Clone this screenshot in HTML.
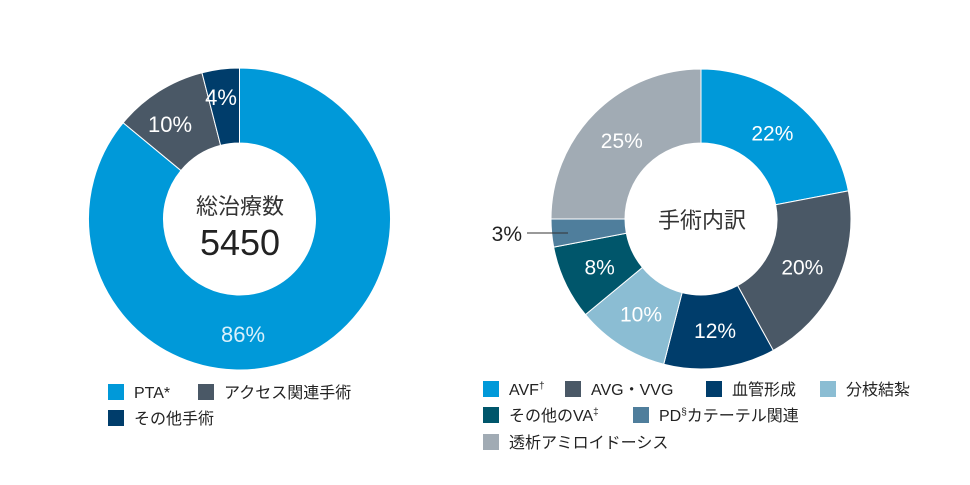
<!DOCTYPE html>
<html><head><meta charset="utf-8"><style>
body{margin:0;background:#fff;width:970px;height:485px;overflow:hidden;font-family:"Liberation Sans","Noto Sans CJK JP",sans-serif;}
svg{position:absolute;left:0;top:0}
</style></head><body>
<svg width="970" height="485"></svg>
<script>
const leftCats=["PTA*","アクセス関連手術","その他手術"];
const leftVals=[86,10,4];
const leftLabels=["86%","10%","4%"];
const rightCats=["AVF|†","AVG・VVG","血管形成","分枝結紮","その他のVA|‡","PD|§|カテーテル関連","透析アミロイドーシス"];
const rightVals=[22,20,12,10,8,3,25];
const rightLabels=["22%","20%","12%","10%","8%","3%","25%"];
const leftColors=["#0099d9","#4a5866","#003d6b"];
const rightColors=["#0099d9","#4a5866","#003d6b","#8bbdd3","#00566b","#4f7e9c","#a1abb4"];
const NS="http://www.w3.org/2000/svg";
const svg=document.querySelector("svg");
function mk(t,a,p){const e=document.createElementNS(NS,t);for(const k in a)e.setAttribute(k,a[k]);(p||svg).appendChild(e);return e;}
function pt(cx,cy,r,f){const a=f*2*Math.PI;return [cx+r*Math.sin(a),cy-r*Math.cos(a)];}
function donut(cx,cy,R,r,vals,cols,name){
  const tot=vals.reduce((a,b)=>a+b,0);let acc=0;const mids=[];
  vals.forEach((v,i)=>{
    const f0=acc/tot,f1=(acc+v)/tot;acc+=v;
    const [x0,y0]=pt(cx,cy,R,f0),[x1,y1]=pt(cx,cy,R,f1),[x2,y2]=pt(cx,cy,r,f1),[x3,y3]=pt(cx,cy,r,f0);
    const lg=(f1-f0)>0.5?1:0;
    const p=mk("path",{d:`M${x0},${y0}A${R},${R} 0 ${lg} 1 ${x1},${y1}L${x2},${y2}A${r},${r} 0 ${lg} 0 ${x3},${y3}Z`,fill:cols[i],stroke:"#fff","stroke-width":"1"});
    
    
    mids.push((f0+f1)/2);
  });
  return mids;
}
const lm=donut(239.5,219,151,76,leftVals,leftColors,"left");
const lpos=[[243,342],[170,132],[221,105]];
leftLabels.forEach((t,i)=>{
  const e=mk("text",{x:lpos[i][0],y:lpos[i][1],"text-anchor":"middle","font-size":"22",fill:i==0?"#d8f0fb":"#fff"});e.textContent=t;
  
  
});
let e=mk("text",{x:240,y:214,"text-anchor":"middle","font-size":"22",fill:"#333"});e.textContent="総治療数";

e=mk("text",{x:240,y:255,"text-anchor":"middle","font-size":"36",fill:"#222"});e.textContent="5450";

const rm=donut(701,219,150,76,rightVals,rightColors,"right");
rightLabels.forEach((t,i)=>{
  let x,y;
  if(rightVals[i]<5){x=522;y=241;
    const l=mk("line",{x1:527,y1:233,x2:568,y2:233,stroke:"#333","stroke-width":"1"});
    
    const tx=mk("text",{x:x,y:y,"text-anchor":"end","font-size":"21",fill:"#222"});tx.textContent=t;
    return;}
  [x,y]=pt(701,219,112,rm[i]);
  const tx=mk("text",{x:x,y:y+8,"text-anchor":"middle","font-size":"21",fill:"#fff"});tx.textContent=t;
  
});
e=mk("text",{x:702,y:228,"text-anchor":"middle","font-size":"22",fill:"#333"});e.textContent="手術内訳";

function leg(x,y,c,t){
  const g=mk("g",{});
  mk("rect",{x:x,y:y-8,width:16,height:16,fill:c},g);
  const tx=mk("text",{x:x+26,y:y+6,"font-size":"16",fill:"#222"},g);
  t.split("|").forEach((s,k)=>{const sp=mk("tspan",k%2?{"font-size":"10",dy:"-6"}:(k>0?{dy:"6"}:{}),tx);sp.textContent=s;});
}
const lL=[[108,392],[198,392],[108,418]];
leftCats.forEach((c,i)=>leg(lL[i][0],lL[i][1],leftColors[i],c));
const rL=[[483,389],[565,389],[706,389],[820,389],[483,415],[633,415],[483,442]];
rightCats.forEach((c,i)=>leg(rL[i][0],rL[i][1],rightColors[i],c));
</script>
</body></html>
